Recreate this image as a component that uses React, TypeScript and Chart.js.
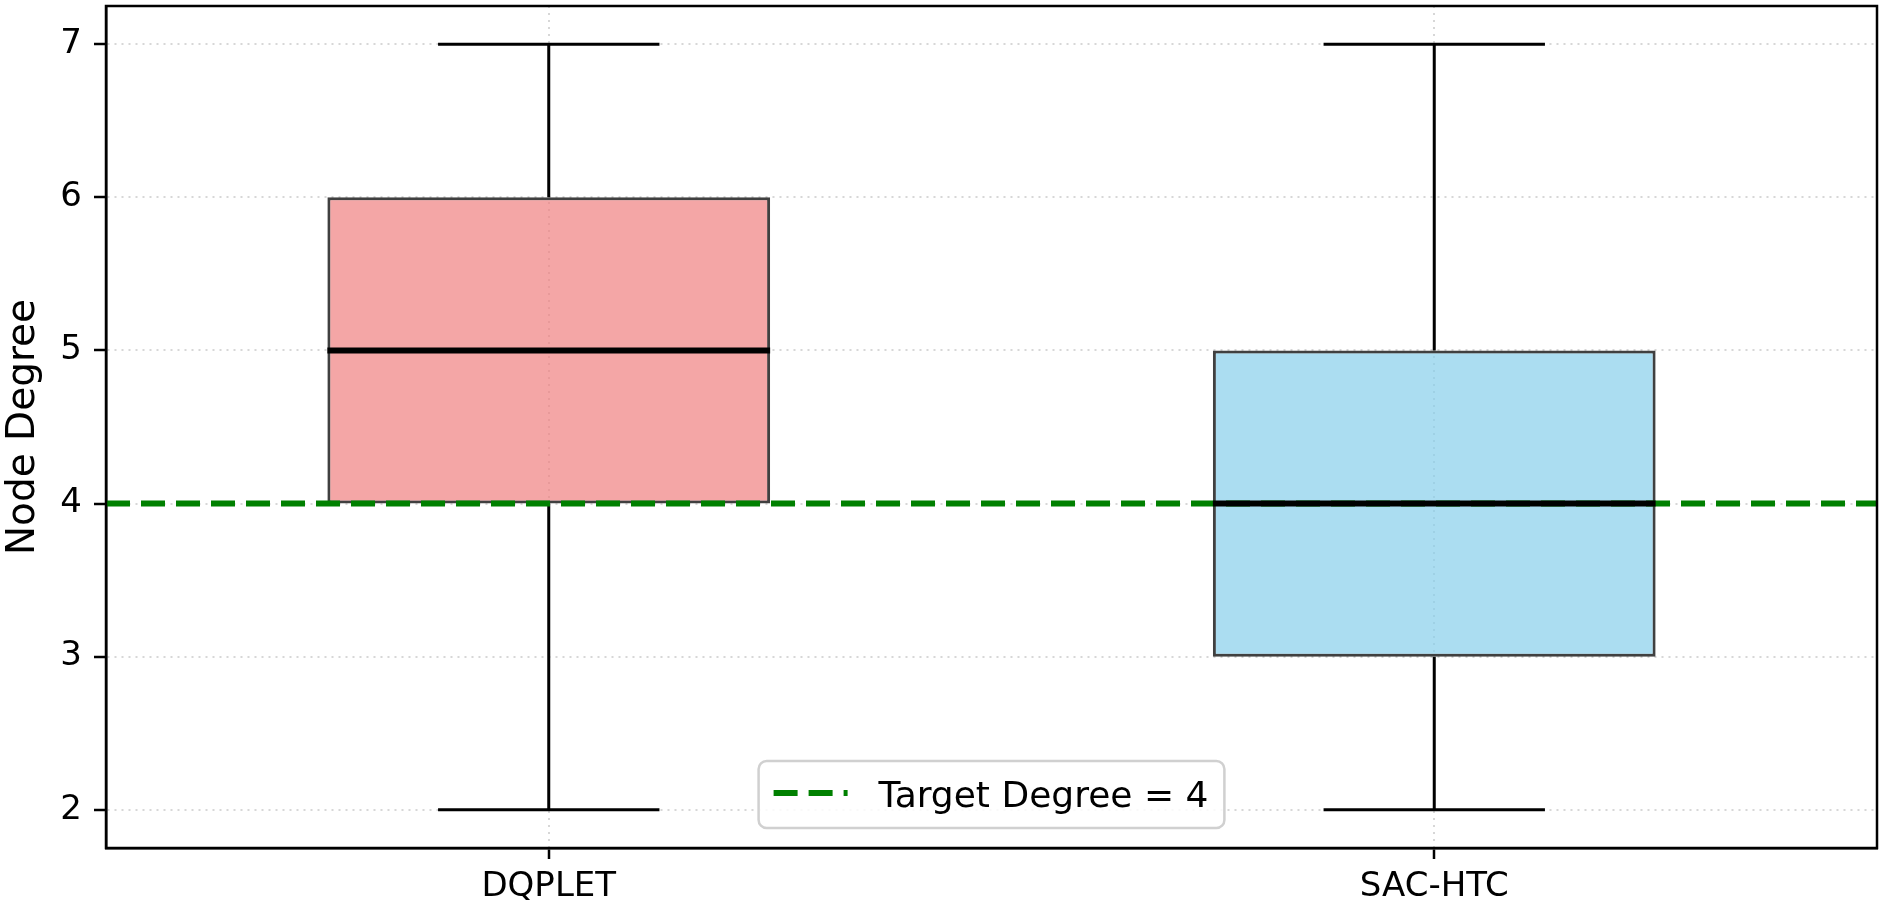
import React, { useEffect, useRef } from "react";
import { Chart, registerables } from "chart.js";

Chart.register(...registerables);

// ---- data ----
const categories = ["DQPLET", "SAC-HTC"];
const whiskerLow = [2, 2];
const q1 = [4, 3];
const median = [5, 4];
const q3 = [6, 5];
const whiskerHigh = [7, 7];
const targetDegree = 4;
const yTicks = [2, 3, 4, 5, 6, 7];
const yAxisTitle = "Node Degree";
const boxColors = ["rgba(240,128,128,0.7)", "rgba(135,206,235,0.7)"];

const FONT = "'DejaVu Sans', sans-serif";
const BOX_HALF = 0.25;
const CAP_HALF = 0.125;

const positions = categories.map((_, i) => i + 1);

const whiskerData: any[] = [];
const medianData: any[] = [];
positions.forEach((x, i) => {
  whiskerData.push({ x, y: whiskerLow[i] }, { x, y: q1[i] }, { x, y: null });
  whiskerData.push({ x, y: q3[i] }, { x, y: whiskerHigh[i] }, { x, y: null });
  whiskerData.push({ x: x - CAP_HALF, y: whiskerLow[i] }, { x: x + CAP_HALF, y: whiskerLow[i] }, { x, y: null });
  whiskerData.push({ x: x - CAP_HALF, y: whiskerHigh[i] }, { x: x + CAP_HALF, y: whiskerHigh[i] }, { x, y: null });
  medianData.push({ x: x - BOX_HALF, y: median[i] }, { x: x + BOX_HALF, y: median[i] }, { x, y: null });
});

const xMin = 0.5;
const xMax = categories.length + 0.5;

const framePlugin = {
  id: "frameAndLegend",
  afterDraw(chart: any) {
    const { ctx, chartArea } = chart;
    const { left, right, top, bottom } = chartArea;
    ctx.save();
    // legend
    const ds = chart.data.datasets.find((d: any) => d.showInLegend);
    if (ds) {
      ctx.font = `36px ${FONT}`;
      const tw = ctx.measureText(ds.label).width;
      const w = 15 + 74 + 31 + tw + 16;
      const h = 67;
      const bx = (left + right) / 2 - w / 2;
      const by = bottom - 20 - h;
      const r = 8;
      ctx.beginPath();
      ctx.moveTo(bx + r, by);
      ctx.arcTo(bx + w, by, bx + w, by + h, r);
      ctx.arcTo(bx + w, by + h, bx, by + h, r);
      ctx.arcTo(bx, by + h, bx, by, r);
      ctx.arcTo(bx, by, bx + w, by, r);
      ctx.closePath();
      ctx.fillStyle = "rgba(255,255,255,0.85)";
      ctx.fill();
      ctx.lineWidth = 2.5;
      ctx.strokeStyle = "#d0d0d0";
      ctx.stroke();
      const ly = by + 32;
      ctx.beginPath();
      ctx.setLineDash(ds.borderDash);
      ctx.lineWidth = ds.borderWidth;
      ctx.strokeStyle = ds.borderColor;
      ctx.moveTo(bx + 15, ly);
      ctx.lineTo(bx + 89, ly);
      ctx.stroke();
      ctx.setLineDash([]);
      ctx.fillStyle = "#000";
      ctx.textAlign = "left";
      ctx.textBaseline = "alphabetic";
      ctx.fillText(ds.label, bx + 120, by + 46);
    }
    // frame
    ctx.lineWidth = 2.5;
    ctx.strokeStyle = "#000";
    ctx.strokeRect(left, top, right - left, bottom - top);
    ctx.restore();
  },
};

export default function App() {
  const ref = useRef<HTMLCanvasElement>(null);

  useEffect(() => {
    document.body.style.margin = "0";
    const canvas = ref.current!;
    const gridColor = "rgba(176,176,176,0.5)";
    const chart = new Chart(canvas, {
      type: "bar",
      data: {
        datasets: [
          {
            type: "line",
            label: "median",
            data: medianData,
            borderColor: "#000",
            borderWidth: 6,
            pointRadius: 0,
            spanGaps: false,
            borderCapStyle: "butt",
          } as any,
          {
            type: "line",
            label: `Target Degree = ${targetDegree}`,
            showInLegend: true,
            data: [
              { x: xMin, y: targetDegree },
              { x: xMax, y: targetDegree },
            ],
            borderColor: "#008000",
            borderWidth: 6,
            borderDash: [24, 11],
            pointRadius: 0,
          } as any,
          {
            type: "line",
            label: "whiskers",
            data: whiskerData,
            borderColor: "#000",
            borderWidth: 3,
            pointRadius: 0,
            spanGaps: false,
          } as any,
          {
            type: "bar",
            label: "boxes",
            data: positions.map((x, i) => ({ x, y: [q1[i], q3[i]] })),
            backgroundColor: boxColors,
            borderColor: "rgba(0,0,0,0.75)",
            borderWidth: 3,
            borderSkipped: false,
            categoryPercentage: 1,
            barPercentage: 2 * BOX_HALF,
          } as any,
        ],
      },
      options: {
        animation: false,
        responsive: false,
        maintainAspectRatio: false,
        layout: { padding: { left: 0, top: 6, right: 6, bottom: 0 } },
        plugins: { legend: { display: false }, tooltip: { enabled: false } },
        scales: {
          x: {
            type: "linear",
            min: xMin,
            max: xMax,
            offset: false,
            afterBuildTicks: (s: any) => {
              s.ticks = positions.map((v) => ({ value: v }));
            },
            afterFit: (s: any) => {
              s.height = 58;
              s.paddingLeft = 0;
              s.paddingRight = 0;
            },
            ticks: {
              callback: (v: any) => categories[Math.round(v) - 1] ?? "",
              color: "#000",
              font: { family: FONT, size: 34 },
              padding: 8,
              maxRotation: 0,
              autoSkip: false,
            },
            grid: {
              offset: false,
              color: gridColor,
              lineWidth: 2,
              drawTicks: true,
              tickLength: 11,
              tickColor: "#000",
              tickWidth: 2.5,
              tickBorderDash: [],
            },
            border: { display: true, color: "#000", width: 2.5, dash: [2, 5] },
          } as any,
          y: {
            type: "linear",
            min: 1.75,
            max: 7.25,
            afterBuildTicks: (s: any) => {
              s.ticks = yTicks.map((v) => ({ value: v }));
            },
            afterFit: (s: any) => {
              s.width = 106;
              s.paddingTop = 0;
              s.paddingBottom = 0;
            },
            ticks: {
              color: "#000",
              font: { family: FONT, size: 34 },
              padding: 12,
            },
            title: {
              display: true,
              text: yAxisTitle,
              color: "#000",
              font: { family: FONT, size: 39 },
              padding: { top: 0, bottom: 0 },
            },
            grid: {
              color: gridColor,
              lineWidth: 2,
              drawTicks: true,
              tickLength: 12,
              tickColor: "#000",
              tickWidth: 2.5,
              tickBorderDash: [],
            },
            border: { display: true, color: "#000", width: 2.5, dash: [2, 5] },
          } as any,
        },
      },
      plugins: [framePlugin],
    });
    return () => chart.destroy();
  }, []);

  return (
    <canvas
      ref={ref}
      width={1883}
      height={906}
      style={{ display: "block", width: 1883, height: 906 }}
    />
  );
}
